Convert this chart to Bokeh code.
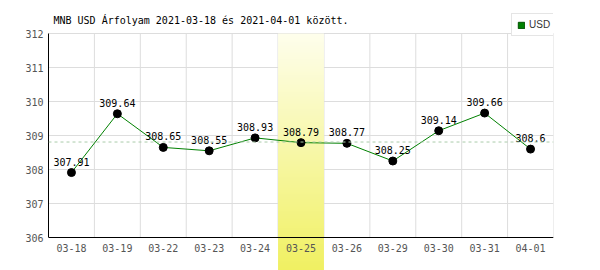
import numpy as np
from bokeh.plotting import figure
from bokeh.models import Range1d, FixedTicker, Legend, LegendItem, Span, Label
from bokeh.embed import file_html
from bokeh.resources import INLINE
from bokeh.core.properties import value

# ---- data ----
dates = ["03-18", "03-19", "03-22", "03-23", "03-24", "03-25", "03-26", "03-29", "03-30", "03-31", "04-01"]
usd = [307.91, 309.64, 308.65, 308.55, 308.93, 308.79, 308.77, 308.25, 309.14, 309.66, 308.60]
point_labels = ["307.91", "309.64", "308.65", "308.55", "308.93", "308.79", "308.77", "308.25", "309.14", "309.66", "308.6"]
y_ticks = [306, 307, 308, 309, 310, 311, 312]
highlight = "03-25"
series_name = "USD"
title_text = "MNB USD Árfolyam 2021-03-18 és 2021-04-01 között."

# ---- layout ----
W, H = 600, 270
frame_left = 48
top_px, axis_y_px = 33, 237
px_per_unit = (axis_y_px - top_px) / (y_ticks[-1] - y_ticks[0])
y_start = y_ticks[0] - (H - axis_y_px) / px_per_unit
y_end = y_ticks[-1] + top_px / px_per_unit
MONO = "DejaVu Sans Mono"

p = figure(width=W, height=H, output_backend="svg", toolbar_location=None,
           x_range=Range1d(0, len(dates)), y_range=Range1d(y_start, y_end),
           min_border_left=frame_left, min_border_right=47, min_border_top=0,
           min_border_bottom=0)
p.outline_line_color = None
p.background_fill_color = "white"
p.border_fill_color = "white"
px_per_cat = (W - frame_left - 47) / len(dates)

xs = [i + 0.5 for i in range(len(dates))]

# grid
p.xgrid.visible = False
p.ygrid.ticker = FixedTicker(ticks=y_ticks)
p.ygrid.grid_line_color = "#dddddd"
bounds = list(range(1, len(dates) + 1))
p.segment(x0=bounds, y0=[y_ticks[0]] * len(bounds), x1=bounds, y1=[y_ticks[-1]] * len(bounds),
          line_color="#dddddd", line_width=1)

# highlight band (vertical gradient)
n = 240
t = np.linspace(0.0, 1.0, n)[:, None]
top_c = np.array([254, 254, 236])
bot_c = np.array([240, 240, 98])
cols = (bot_c * (1 - t) + top_c * t).round().astype(np.uint32)
rgba = (np.uint32(255) << 24) | (cols[:, 2] << 16) | (cols[:, 1] << 8) | cols[:, 0]
img = np.repeat(rgba[:, None], 4, axis=1).astype(np.uint32)
hi = dates.index(highlight)
p.image_rgba(image=[img], x=hi, y=y_start, dw=1, dh=y_ticks[-1] - y_start)

# average line
p.add_layout(Span(location=float(np.mean(usd)), dimension="width",
                  line_color="#aaccaa", line_dash="3 3", line_width=1))

# series
p.line(xs, usd, line_color="#008000", line_width=1)
p.scatter(xs, usd, size=8, fill_color="black", line_color="black")
p.text(xs, usd, text=point_labels, text_align="center", text_baseline="alphabetic",
       y_offset=-11, text_font=value(MONO), text_font_size="10px", text_color="black")

# axes
for ax in (p.xaxis, p.yaxis):
    ax.axis_line_color = "black"
    ax.axis_line_width = 1
    ax.major_tick_line_color = None
    ax.minor_tick_line_color = None
    ax.major_tick_out = 0
    ax.major_tick_in = 0
    ax.minor_tick_out = 0
    ax.minor_tick_in = 0
    ax.major_label_text_font = MONO
    ax.major_label_text_font_size = "10px"
    ax.major_label_text_color = "#555555"
    ax.major_label_standoff = 5
p.yaxis.ticker = FixedTicker(ticks=y_ticks)
p.yaxis.bounds = (y_ticks[0], y_ticks[-1])
p.xaxis.ticker = FixedTicker(ticks=xs)
p.xaxis.major_label_overrides = {x: d for x, d in zip(xs, dates)}
p.xaxis.fixed_location = y_ticks[0]
p.xaxis.major_label_standoff = 6

# title
p.title.visible = False
p.add_layout(Label(x=5 / px_per_cat, y=y_ticks[-1] + (top_px - 20) / px_per_unit,
                   text=title_text, text_font=MONO, text_font_size="10px",
                   text_color="black", text_baseline="middle", text_align="left"))

# legend (square swatch; renderer holds no drawable point)
nan = float("nan")
swatch = p.quad(left=[nan], right=[nan], top=[nan], bottom=[nan],
                fill_color="#008000", line_color="#005000")
legend = Legend(items=[LegendItem(label=series_name, renderers=[swatch])],
                location=(511 - frame_left, H - 36), orientation="vertical")
legend.border_line_color = "#cccccc"
legend.background_fill_color = "white"
legend.background_fill_alpha = 1
legend.padding = 5
legend.margin = 0
legend.spacing = 0
legend.glyph_width = 8
legend.glyph_height = 8
legend.label_standoff = 4
legend.label_height = 10
legend.label_text_font = "Liberation Sans"
legend.label_text_font_size = "10px"
legend.label_text_color = "#333333"
p.add_layout(legend)

open("out.html", "w").write(file_html(p, INLINE))
